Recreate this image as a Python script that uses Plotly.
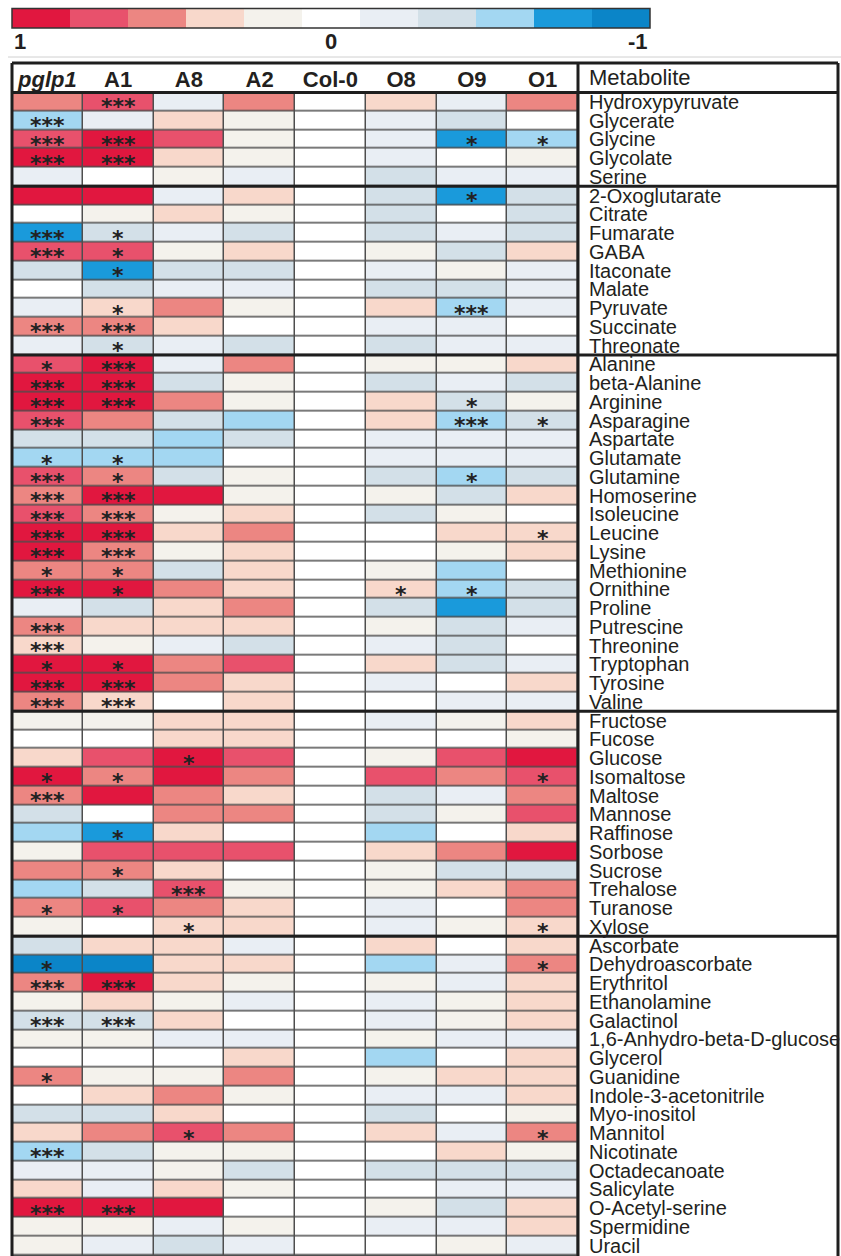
import plotly.graph_objects as go

W, H = 841, 1256
OFF = 0

genotypes = ["pglp1", "A1", "A8", "A2", "Col-0", "O8", "O9", "O1"]
header_text = ["<b><i>pglp1</i></b>", "<b>A1</b>", "<b>A8</b>", "<b>A2</b>",
               "<b>Col-0</b>", "<b>O8</b>", "<b>O9</b>", "<b>O1</b>"]

metabolites = [
    "Hydroxypyruvate", "Glycerate", "Glycine", "Glycolate", "Serine",
    "2-Oxoglutarate", "Citrate", "Fumarate", "GABA", "Itaconate", "Malate",
    "Pyruvate", "Succinate", "Threonate",
    "Alanine", "beta-Alanine", "Arginine", "Asparagine", "Aspartate", "Glutamate",
    "Glutamine", "Homoserine", "Isoleucine", "Leucine", "Lysine", "Methionine",
    "Ornithine", "Proline", "Putrescine", "Threonine", "Tryptophan", "Tyrosine", "Valine",
    "Fructose", "Fucose", "Glucose", "Isomaltose", "Maltose", "Mannose", "Raffinose",
    "Sorbose", "Sucrose", "Trehalose", "Turanose", "Xylose",
    "Ascorbate", "Dehydroascorbate", "Erythritol", "Ethanolamine", "Galactinol",
    "1,6-Anhydro-beta-D-glucose", "Glycerol", "Guanidine", "Indole-3-acetonitrile",
    "Myo-inositol", "Mannitol", "Nicotinate", "Octadecanoate", "Salicylate",
    "O-Acetyl-serine", "Spermidine", "Uracil",
]
group_sizes = [5, 9, 19, 12, 17]

# relative change values (1 = strong increase, -1 = strong decrease)
pglp1 = [0.6, -0.6, 0.8, 1.0, -0.2, 1.0, 0.0, -0.8, 0.8, -0.4, 0.0, -0.2, 0.6, -0.2,
         0.8, 1.0, 1.0, 0.8, -0.4, -0.6, 0.8, 0.6, 0.8, 1.0, 1.0, 0.6, 1.0, -0.2, 0.6,
         0.4, 1.0, 1.0, 0.6,
         0.2, 0.0, 0.4, 1.0, 0.6, -0.4, -0.6, 0.2, 0.6, -0.6, 0.6, 0.2,
         -0.4, -1.0, 0.6, 0.2, -0.4, 0.2, 0.0, 0.6, 0.0, -0.4, 0.4, -0.6, -0.2, 0.4,
         1.0, 0.2, 0.2]
a1 = [0.8, -0.2, 1.0, 1.0, 0.0, 1.0, 0.2, -0.4, 0.8, -0.8, -0.4, 0.4, 0.6, -0.4,
      1.0, 1.0, 1.0, 0.6, -0.4, -0.6, 0.6, 1.0, 0.6, 1.0, 0.6, 0.6, 1.0, -0.4, 0.4,
      0.2, 1.0, 1.0, 0.4,
      0.2, 0.0, 0.8, 0.6, 1.0, 0.0, -0.8, 0.8, 0.6, -0.4, 0.8, 0.0,
      0.4, -1.0, 1.0, 0.4, -0.4, 0.2, 0.0, 0.2, 0.4, -0.4, 0.6, -0.4, -0.2, -0.2,
      1.0, 0.2, -0.2]
a8 = [-0.2, 0.4, 0.8, 0.4, 0.2, -0.2, 0.4, -0.2, 0.2, -0.4, -0.2, 0.6, 0.4, -0.2,
      -0.2, -0.4, 0.6, -0.4, -0.6, -0.6, -0.4, 1.0, 0.2, 0.4, 0.2, -0.4, 0.6, 0.4, 0.4,
      -0.2, 0.6, 0.6, 0.0,
      0.4, 0.4, 1.0, 1.0, 0.6, 0.6, 0.4, 0.8, 0.4, 0.8, 0.6, 0.4,
      0.4, 0.4, 0.4, 0.2, 0.4, -0.2, 0.0, 0.2, 0.6, 0.4, 0.8, 0.2, 0.2, 0.4,
      1.0, -0.2, -0.4]
a2 = [0.6, 0.2, 0.2, 0.2, -0.2, 0.4, 0.2, -0.4, 0.4, -0.4, -0.2, 0.2, 0.0, -0.4,
      0.6, 0.2, 0.2, -0.6, -0.4, 0.0, 0.2, 0.2, 0.4, 0.6, 0.4, 0.4, 0.4, 0.6, 0.4,
      -0.4, 0.8, 0.4, 0.4,
      0.4, 0.4, 0.8, 0.6, 0.4, 0.6, 0.0, 0.8, 0.0, 0.2, 0.4, 0.4,
      -0.2, 0.4, 0.2, -0.2, 0.0, -0.2, 0.4, 0.6, 0.2, 0.0, 0.6, 0.2, -0.4, 0.2,
      0.0, 0.2, -0.2]
col0 = [0.0] * 62
o8 = [0.4, -0.2, -0.2, -0.2, -0.4, -0.4, -0.4, -0.4, 0.2, -0.2, -0.4, 0.4, -0.2, -0.4,
      0.2, -0.4, 0.4, 0.4, -0.2, -0.2, -0.4, 0.2, -0.4, 0.0, 0.0, 0.2, 0.4, -0.4, 0.2,
      -0.2, 0.4, -0.2, 0.0,
      -0.2, 0.0, 0.2, 0.8, -0.4, -0.4, -0.6, 0.4, 0.2, 0.2, -0.2, -0.2,
      0.4, -0.6, 0.2, -0.2, -0.2, 0.2, -0.6, 0.2, -0.2, -0.4, 0.4, 0.0, -0.4, 0.0,
      0.2, -0.2, 0.0]
o9 = [-0.2, -0.4, -0.8, 0.0, -0.2, -0.8, 0.0, -0.2, -0.4, 0.2, -0.4, -0.6, -0.2, -0.2,
      0.2, -0.2, -0.4, -0.6, -0.2, -0.2, -0.6, -0.4, 0.2, 0.4, 0.2, -0.6, -0.6, -0.8, -0.4,
      -0.4, -0.4, 0.0, -0.2,
      0.2, 0.0, 0.8, 0.6, -0.2, 0.2, 0.0, 0.6, -0.4, 0.4, 0.0, 0.2,
      0.0, -0.2, -0.2, 0.2, 0.2, -0.2, 0.0, 0.4, -0.2, 0.0, -0.2, 0.4, -0.4, -0.2,
      -0.4, -0.2, 0.2]
o1 = [0.6, 0.0, -0.6, 0.2, -0.2, -0.4, -0.4, -0.4, 0.4, -0.2, -0.2, -0.2, 0.0, -0.2,
      0.4, -0.4, 0.2, -0.4, -0.2, -0.2, -0.4, 0.4, 0.0, 0.4, 0.4, 0.0, -0.4, -0.4, -0.2,
      0.0, -0.2, 0.4, -0.2,
      0.4, 0.2, 1.0, 0.8, 0.6, 0.8, 0.4, 1.0, -0.4, 0.6, 0.6, 0.4,
      0.4, 0.6, 0.4, 0.4, 0.4, -0.2, 0.4, 0.4, 0.4, 0.2, 0.6, 0.2, -0.4, -0.2,
      0.4, 0.4, -0.2]

# significance marks
sig_pglp1 = {"Glycerate": "***", "Glycine": "***", "Glycolate": "***", "Fumarate": "***",
             "GABA": "***", "Succinate": "***", "Alanine": "*", "beta-Alanine": "***",
             "Arginine": "***", "Asparagine": "***", "Glutamate": "*", "Glutamine": "***",
             "Homoserine": "***", "Isoleucine": "***", "Leucine": "***", "Lysine": "***",
             "Methionine": "*", "Ornithine": "***", "Putrescine": "***", "Threonine": "***",
             "Tryptophan": "*", "Tyrosine": "***", "Valine": "***", "Isomaltose": "*",
             "Maltose": "***", "Turanose": "*", "Dehydroascorbate": "*", "Erythritol": "***",
             "Galactinol": "***", "Guanidine": "*", "Nicotinate": "***", "O-Acetyl-serine": "***"}
sig_a1 = {"Hydroxypyruvate": "***", "Glycine": "***", "Glycolate": "***", "Fumarate": "*",
          "GABA": "*", "Itaconate": "*", "Pyruvate": "*", "Succinate": "***", "Threonate": "*",
          "Alanine": "***", "beta-Alanine": "***", "Arginine": "***", "Glutamate": "*",
          "Glutamine": "*", "Homoserine": "***", "Isoleucine": "***", "Leucine": "***",
          "Lysine": "***", "Methionine": "*", "Ornithine": "*", "Tryptophan": "*",
          "Tyrosine": "***", "Valine": "***", "Isomaltose": "*", "Raffinose": "*",
          "Sucrose": "*", "Turanose": "*", "Erythritol": "***", "Galactinol": "***",
          "O-Acetyl-serine": "***"}
sig_a8 = {"Glucose": "*", "Trehalose": "***", "Xylose": "*", "Mannitol": "*"}
sig_a2 = {}
sig_col0 = {}
sig_o8 = {"Ornithine": "*"}
sig_o9 = {"Glycine": "*", "2-Oxoglutarate": "*", "Pyruvate": "***", "Arginine": "*",
          "Asparagine": "***", "Glutamine": "*", "Ornithine": "*"}
sig_o1 = {"Glycine": "*", "Asparagine": "*", "Leucine": "*", "Isomaltose": "*",
          "Xylose": "*", "Dehydroascorbate": "*", "Mannitol": "*"}

scale_values = [1.0, 0.8, 0.6, 0.4, 0.2, 0.0, -0.2, -0.4, -0.6, -0.8, -1.0]
scale_labels = {"1": 1.0, "0": 0.0, "-1": -1.0}

# ---------------------------------------------------------------------------
columns = [pglp1, a1, a8, a2, col0, o8, o9, o1]
sigs = [sig_pglp1, sig_a1, sig_a8, sig_a2, sig_col0, sig_o8, sig_o9, sig_o1]
n_rows = len(metabolites)
z = [[columns[c][r] for c in range(len(genotypes))] for r in range(n_rows)]

# discrete 11-step colour scale (from -1 to 1)
step_colors = ["#0B85C8", "#1A9ADB", "#A3D7F2", "#D3E0E8", "#E9EEF4", "#FFFFFF",
               "#F4F2EC", "#F8D8CB", "#EC8682", "#E8516C", "#E1173F"]
zmin, zmax = -1.1, 1.1
colorscale = []
for k, c in enumerate(step_colors):
    colorscale.append([k / 11, c])
    colorscale.append([(k + 1) / 11, c])


def px_x(x):
    return (x - OFF) / W


def px_y(y):
    return 1 - (y - OFF) / H


fig = go.Figure()

fig.add_trace(go.Heatmap(
    z=z, x=list(range(len(genotypes))), y=list(range(n_rows)),
    colorscale=colorscale, zmin=zmin, zmax=zmax, showscale=False,
    xgap=1.5, ygap=1.5, hoverinfo="skip",
    xaxis="x", yaxis="y",
))

fig.add_trace(go.Heatmap(
    z=[scale_values], x=list(range(len(scale_values))), y=[0],
    colorscale=colorscale, zmin=zmin, zmax=zmax, showscale=False,
    hoverinfo="skip", xaxis="x2", yaxis="y2",
))

TXT = "#231F20"
FONT = "Liberation Sans, Arial, sans-serif"

fig.update_layout(
    width=W, height=H,
    margin=dict(l=0, r=0, t=0, b=0),
    paper_bgcolor="white",
    plot_bgcolor="#4E4E4E",
    showlegend=False,
    xaxis=dict(domain=[px_x(12), px_x(578)], range=[-0.5, 7.5], side="top",
               tickmode="array", tickvals=list(range(len(genotypes))), ticktext=header_text,
               tickfont=dict(family=FONT, size=22, color=TXT), ticks="", ticklen=0,
               showgrid=False, zeroline=False, showline=False, fixedrange=True),
    yaxis=dict(domain=[0, px_y(92.5)], range=[n_rows - 0.5 + 0.05, -0.5],
               showticklabels=False, ticks="", showgrid=False, zeroline=False,
               showline=False, fixedrange=True),
    xaxis2=dict(domain=[px_x(12), px_x(650)], range=[-0.5, len(scale_values) - 0.5],
                anchor="y2", showticklabels=False, ticks="", showgrid=False,
                zeroline=False, showline=False, fixedrange=True),
    yaxis2=dict(domain=[px_y(28), px_y(8.5)], range=[-0.5, 0.5], anchor="x2",
                showticklabels=False, ticks="", showgrid=False, zeroline=False,
                showline=False, fixedrange=True),
)

annotations = []
# row labels
for r, name in enumerate(metabolites):
    annotations.append(dict(x=px_x(587), xref="paper", y=r, yref="y", text=name,
                            xanchor="left", yanchor="middle", showarrow=False,
                            font=dict(family=FONT, size=20, color=TXT)))
# header "Metabolite"
annotations.append(dict(x=px_x(587), xref="paper", y=px_y(77), yref="paper",
                        text="Metabolite", xanchor="left", yanchor="middle",
                        showarrow=False, font=dict(family=FONT, size=22, color=TXT)))
# significance stars
for c, sig in enumerate(sigs):
    for name, mark in sig.items():
        r = metabolites.index(name)
        annotations.append(dict(x=c, xref="x", y=r, yref="y", text=mark,
                                xanchor="center", yanchor="middle", showarrow=False,
                                yshift=-5,
                                font=dict(family="DejaVu Sans, sans-serif", size=22,
                                          color="#222222", weight="bold")))
# colour-scale labels
for lab, val in scale_labels.items():
    idx = scale_values.index(val)
    if idx == 0:
        xx, anc = idx - 0.5, "left"
    elif idx == len(scale_values) - 1:
        xx, anc = idx + 0.5, "right"
    else:
        xx, anc = idx, "center"
    annotations.append(dict(x=xx, xref="x2", y=px_y(41), yref="paper", text=f"<b>{lab}</b>",
                            xanchor=anc, yanchor="middle", showarrow=False,
                            font=dict(family=FONT, size=22, color=TXT)))
fig.update_layout(annotations=annotations)

shapes = []
LINE = "#1E1E1E"


def pline(x0, y0, x1, y1, w=3, color=LINE):
    shapes.append(dict(type="line", xref="paper", yref="paper",
                       x0=px_x(x0), y0=px_y(y0), x1=px_x(x1), y1=px_y(y1),
                       line=dict(color=color, width=w)))


pline(8, 57, 841, 57, w=1, color="#D0D0D0")
# table frame
pline(12, 63, 838, 63)
pline(12, 92.5, 838, 92.5)
pline(12, 63, 12, 1260)
pline(578, 63, 578, 1260)
pline(838, 63, 838, 1260)
# group separators
acc = 0
for g in group_sizes[:-1]:
    acc += g
    shapes.append(dict(type="line", xref="paper", yref="y",
                       x0=px_x(12), x1=px_x(838), y0=acc - 0.5, y1=acc - 0.5,
                       line=dict(color=LINE, width=3)))
# colour-scale frame
shapes.append(dict(type="rect", xref="paper", yref="paper",
                   x0=px_x(12), x1=px_x(650), y0=px_y(28), y1=px_y(8.5),
                   line=dict(color="#333333", width=1.5)))
fig.update_layout(shapes=shapes)

fig.write_html(
    "out.html",
    config={"displayModeBar": False, "staticPlot": True},
    post_script="document.body.style.margin='0px';document.body.style.overflow='hidden';",
)
